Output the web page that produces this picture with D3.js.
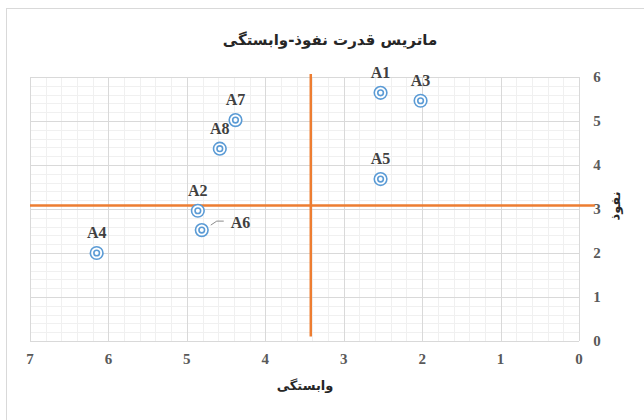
<!DOCTYPE html>
<html>
<head>
<meta charset="utf-8">
<script src="https://cdn.jsdelivr.net/npm/d3@7"></script>
<style>
  body { margin: 0; background: #fff; }
  svg { display: block; }
  .serif { font-family: "Liberation Serif", "DejaVu Serif", serif; font-weight: bold; }
  .fa { font-family: "DejaVu Sans", sans-serif; font-weight: bold; }
</style>
</head>
<body>
<div id="chart"></div>
<script>
// data
var labels = ["A1", "A2", "A3", "A4", "A5", "A6", "A7", "A8"];
var dependence = [2.53, 4.86, 2.02, 6.15, 2.53, 4.81, 4.38, 4.58];
var influence = [5.64, 2.96, 5.46, 2.0, 3.68, 2.52, 5.02, 4.37];
var xTicks = [7, 6, 5, 4, 3, 2, 1, 0];
var yTicks = [0, 1, 2, 3, 4, 5, 6];
var splitX = 3.42;   // vertical orange line
var splitY = 3.08;   // horizontal orange line

(function () {
  var width = 644, height = 420;
  var pLeft = 30, pRight = 579, pTop = 77, pBottom = 341;

  var svg = d3.select("#chart").append("svg")
    .attr("width", width)
    .attr("height", height);

  // chart frame
  svg.append("rect")
    .attr("x", 6.5).attr("y", 8.5)
    .attr("width", 660).attr("height", 430)
    .attr("fill", "none").attr("stroke", "#d9d9d9");

  var x = d3.scaleLinear().domain([7, 0]).range([pLeft, pRight]);
  var y = d3.scaleLinear().domain([0, 6]).range([pBottom, pTop]);

  // minor grid
  var minorX = d3.range(0, 7.0001, 0.2), minorY = d3.range(0, 6.0001, 0.2);
  svg.append("g").selectAll("line").data(minorX).enter().append("line")
    .attr("x1", function (d) { return Math.round(x(d)) + 0.5; })
    .attr("x2", function (d) { return Math.round(x(d)) + 0.5; })
    .attr("y1", pTop).attr("y2", pBottom)
    .attr("stroke", "#f0f0f0");
  svg.append("g").selectAll("line").data(minorY).enter().append("line")
    .attr("y1", function (d) { return Math.round(y(d)) + 0.5; })
    .attr("y2", function (d) { return Math.round(y(d)) + 0.5; })
    .attr("x1", pLeft).attr("x2", pRight)
    .attr("stroke", "#f0f0f0");

  // major grid
  svg.append("g").selectAll("line").data(xTicks).enter().append("line")
    .attr("x1", function (d) { return Math.round(x(d)) + 0.5; })
    .attr("x2", function (d) { return Math.round(x(d)) + 0.5; })
    .attr("y1", pTop).attr("y2", pBottom)
    .attr("stroke", "#d9d9d9");
  svg.append("g").selectAll("line").data(yTicks).enter().append("line")
    .attr("y1", function (d) { return Math.round(y(d)) + 0.5; })
    .attr("y2", function (d) { return Math.round(y(d)) + 0.5; })
    .attr("x1", pLeft).attr("x2", pRight)
    .attr("stroke", "#d9d9d9");

  // tick labels
  svg.append("g").selectAll("text").data(xTicks).enter().append("text")
    .attr("class", "serif")
    .attr("x", function (d) { return x(d); })
    .attr("y", 364)
    .attr("text-anchor", "middle")
    .attr("font-size", 15).attr("fill", "#595959")
    .text(function (d) { return d; });
  svg.append("g").selectAll("text").data(yTicks).enter().append("text")
    .attr("class", "serif")
    .attr("x", 597)
    .attr("y", function (d) { return y(d) + 5; })
    .attr("text-anchor", "middle")
    .attr("font-size", 15).attr("fill", "#595959")
    .text(function (d) { return d; });

  // orange split lines
  svg.append("line")
    .attr("x1", x(7)).attr("x2", x(-0.2))
    .attr("y1", y(splitY)).attr("y2", y(splitY))
    .attr("stroke", "#ED7D31").attr("stroke-width", 2.5);
  svg.append("line")
    .attr("x1", x(splitX)).attr("x2", x(splitX))
    .attr("y1", y(6.07)).attr("y2", y(0.1))
    .attr("stroke", "#ED7D31").attr("stroke-width", 2.5);

  // points
  var points = labels.map(function (l, i) {
    return { label: l, dx: dependence[i], dy: influence[i] };
  });
  var pg = svg.append("g").selectAll("g").data(points).enter().append("g")
    .attr("transform", function (d) { return "translate(" + x(d.dx) + "," + y(d.dy) + ")"; });
  pg.append("circle").attr("r", 6.3)
    .attr("fill", "#fff").attr("stroke", "#5B9BD5").attr("stroke-width", 1.6);
  pg.append("circle").attr("r", 2.8)
    .attr("fill", "none").attr("stroke", "#5B9BD5").attr("stroke-width", 1.6);

  // data labels (A6 sits to the right with a leader line)
  pg.append("text")
    .attr("class", "serif")
    .attr("x", function (d) { return d.label === "A6" ? 29 : 0; })
    .attr("y", function (d) { return d.label === "A6" ? -2 : -15; })
    .attr("text-anchor", function (d) { return d.label === "A6" ? "start" : "middle"; })
    .attr("font-size", 16).attr("fill", "#404040")
    .text(function (d) { return d.label; });
  pg.filter(function (d) { return d.label === "A6"; })
    .append("polyline")
    .attr("points", "9,-5 15,-9 22,-9")
    .attr("fill", "none").attr("stroke", "#8c8c8c").attr("stroke-width", 1);

  // titles
  svg.append("text")
    .attr("class", "fa")
    .attr("x", 330).attr("y", 45)
    .attr("text-anchor", "middle")
    .attr("font-size", 15).attr("fill", "#262626")
    .text("ماتریس قدرت نفوذ-وابستگی");
  svg.append("text")
    .attr("class", "fa")
    .attr("x", 305).attr("y", 390)
    .attr("text-anchor", "middle")
    .attr("font-size", 13).attr("fill", "#262626")
    .text("وابستگی");
  svg.append("text")
    .attr("class", "fa")
    .attr("transform", "translate(620,206) rotate(-90)")
    .attr("text-anchor", "middle")
    .attr("font-size", 13).attr("fill", "#262626")
    .text("نفوذ");
})();
</script>
</body>
</html>
